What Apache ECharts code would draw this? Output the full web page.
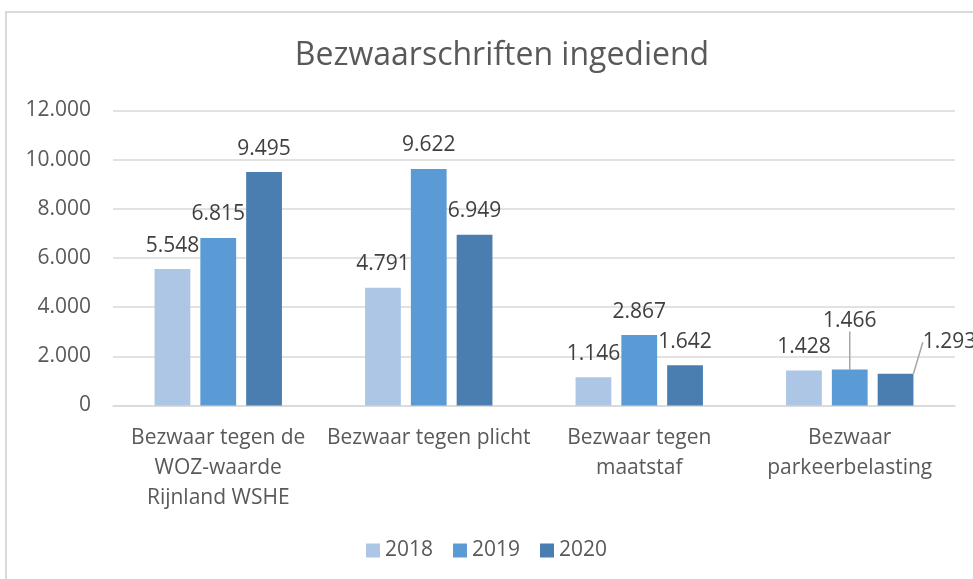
<!DOCTYPE html>
<html>
<head>
<meta charset="utf-8">
<script src="https://cdn.jsdelivr.net/npm/echarts@6/dist/echarts.min.js"></script>
<style>
  html, body { margin: 0; padding: 0; background: #fff; }
  #chart { width: 973px; height: 579px; }
</style>
</head>
<body>
<div id="chart"></div>
<script>
  // categorie-labels (regelafbreking zoals in het origineel)
  const categories = [
    'Bezwaar tegen de\nWOZ-waarde\nRijnland WSHE',
    'Bezwaar tegen plicht',
    'Bezwaar tegen\nmaatstaf',
    'Bezwaar\nparkeerbelasting'
  ]
  const years = ['2018', '2019', '2020']
  const values2018 = [5548, 4791, 1146, 1428]
  const values2019 = [6815, 9622, 2867, 1466]
  const values2020 = [9495, 6949, 1642, 1293]
  const yTicks = [0, 2000, 4000, 6000, 8000, 10000, 12000]

  const colors = ['#adc6e6', '#5b9bd5', '#4a7eb1']
  const textColor = '#595959'
  const font = '"Open Sans", Lato, sans-serif'

  // handmatig verplaatste labels (bezwaar parkeerbelasting)
  const moved = {
    '1-3': { dx: 0, dy: -25 },
    '2-3': { dx: 54, dy: -8 }
  }

  const fmt = v => v.toLocaleString('nl-NL')

  const chart = echarts.init(document.getElementById('chart'))

  const makeSeries = (name, data, i) => ({
    name: name,
    type: 'bar',
    // alleen verplaatste labels krijgen een verbindingslijn
    data: data.map((v, j) => ({
      value: v,
      labelLine: { show: !!moved[i + '-' + j] }
    })),
    barWidth: '17%',
    barGap: '28%',
    itemStyle: { color: colors[i] },
    label: {
      show: true,
      position: 'top',
      distance: 13,
      color: '#404040',
      fontFamily: font,
      fontSize: 21,
      formatter: p => fmt(p.value)
    },
    labelLine: {
      show: false,
      lineStyle: { color: '#a6a6a6', width: 1.5 }
    },
    labelLayout: p => moved[i + '-' + p.dataIndex] || {}
  })

  chart.setOption({
    animation: false,
    textStyle: { fontFamily: font },
    graphic: [{
      type: 'rect',
      shape: { x: 6, y: 12, width: 1200, height: 1200 },
      style: { fill: 'none', stroke: '#d9d9d9', lineWidth: 2 },
      silent: true
    }],
    title: {
      text: 'Bezwaarschriften ingediend',
      left: 497,
      top: 35,
      textAlign: 'center',
      textStyle: { color: textColor, fontSize: 32, fontWeight: 'normal', fontFamily: font }
    },
    legend: {
      data: years,
      bottom: 13,
      left: 'center',
      itemWidth: 14,
      itemHeight: 14,
      itemGap: 20,
      icon: 'rect',
      textStyle: { color: textColor, fontSize: 21, fontFamily: font }
    },
    grid: {
      left: 113,
      right: 18,
      top: 110.5,
      bottom: 173.5,
      containLabel: false
    },
    xAxis: {
      type: 'category',
      data: categories,
      axisLine: { lineStyle: { color: '#d9d9d9', width: 1.5 } },
      axisTick: { show: false },
      axisLabel: {
        color: textColor,
        fontSize: 21,
        lineHeight: 30,
        margin: 18,
        interval: 0,
        fontFamily: font
      }
    },
    yAxis: {
      type: 'value',
      min: yTicks[0],
      max: yTicks[yTicks.length - 1],
      interval: 2000,
      axisLine: { show: false },
      axisTick: { show: false },
      splitLine: { lineStyle: { color: '#d9d9d9', width: 1.5 } },
      axisLabel: {
        color: textColor,
        fontSize: 21,
        margin: 22,
        fontFamily: font,
        formatter: v => fmt(v)
      }
    },
    series: [
      makeSeries(years[0], values2018, 0),
      makeSeries(years[1], values2019, 1),
      makeSeries(years[2], values2020, 2)
    ]
  })
</script>
</body>
</html>
